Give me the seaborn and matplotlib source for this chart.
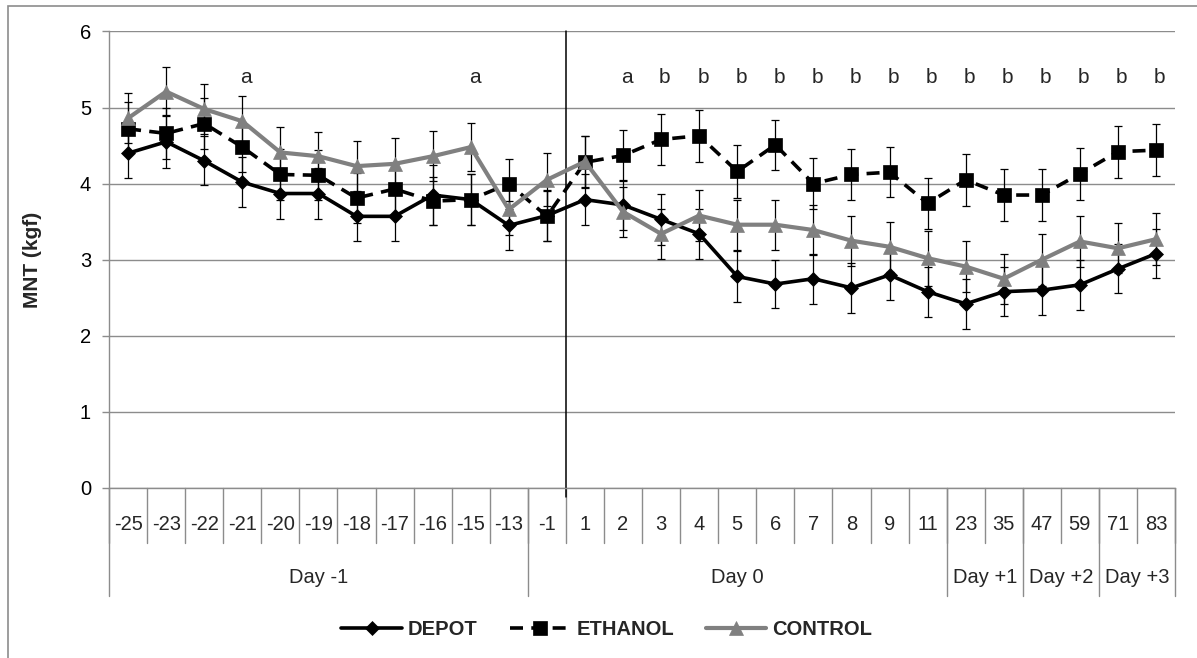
import numpy as np
import pandas as pd
import matplotlib
matplotlib.use("Agg")
import matplotlib.pyplot as plt
import matplotlib.transforms as mtransforms
from matplotlib.patches import Rectangle
import seaborn as sns

# Sampling times (hours relative to treatment)
hours = ["-25", "-23", "-22", "-21", "-20", "-19", "-18", "-17", "-16", "-15", "-13",
         "-1", "1", "2", "3", "4", "5", "6", "7", "8", "9", "11",
         "23", "35", "47", "59", "71", "83"]
day_groups = ["Day -1", "Day 0", "Day +1", "Day +2", "Day +3"]
day_sizes = [11, 11, 2, 2, 2]

# Mean nociceptive threshold (kgf) and SEM per group
depot = [4.40, 4.55, 4.30, 4.02, 3.87, 3.87, 3.57, 3.57, 3.85, 3.79, 3.45,
         3.58, 3.79, 3.72, 3.53, 3.34, 2.78, 2.68, 2.75, 2.63, 2.80, 2.58,
         2.42, 2.58, 2.60, 2.67, 2.88, 3.08]
depot_sem = [0.33, 0.35, 0.32, 0.33, 0.34, 0.34, 0.32, 0.33, 0.40, 0.34, 0.32,
             0.34, 0.34, 0.33, 0.34, 0.33, 0.34, 0.32, 0.33, 0.33, 0.33, 0.33,
             0.33, 0.32, 0.33, 0.33, 0.32, 0.32]

ethanol = [4.72, 4.66, 4.79, 4.48, 4.12, 4.11, 3.81, 3.93, 3.77, 3.79, 4.00,
           3.57, 4.28, 4.37, 4.58, 4.63, 4.16, 4.51, 4.00, 4.12, 4.15, 3.74,
           4.05, 3.85, 3.85, 4.13, 4.42, 4.44]
ethanol_sem = [0.35, 0.34, 0.33, 0.33, 0.34, 0.33, 0.33, 0.33, 0.32, 0.34, 0.33,
               0.33, 0.34, 0.34, 0.34, 0.34, 0.35, 0.33, 0.34, 0.34, 0.33, 0.34,
               0.34, 0.34, 0.34, 0.34, 0.34, 0.34]

control = [4.86, 5.21, 4.98, 4.82, 4.41, 4.36, 4.23, 4.26, 4.36, 4.48, 3.66,
           4.05, 4.29, 3.63, 3.34, 3.58, 3.46, 3.46, 3.39, 3.25, 3.17, 3.02,
           2.91, 2.75, 3.00, 3.24, 3.15, 3.27]
control_sem = [0.33, 0.32, 0.33, 0.33, 0.33, 0.32, 0.33, 0.34, 0.33, 0.32, 0.33,
               0.35, 0.34, 0.33, 0.33, 0.34, 0.33, 0.33, 0.33, 0.33, 0.33, 0.36,
               0.33, 0.33, 0.34, 0.34, 0.33, 0.34]

# Significance letters above each time point
letters = ["", "", "", "a", "", "", "", "", "", "a", "",
           "", "", "a", "b", "b", "b", "b", "b", "b", "b", "b",
           "b", "b", "b", "b", "b", "b"]

sns.set_theme(style="white")
plt.rcParams["font.family"] = ["Liberation Sans", "DejaVu Sans"]

GRAY = "#8c8c8c"
n = len(hours)
pos = np.arange(n)

df = pd.DataFrame({
    "pos": np.tile(pos, 3),
    "MNT": depot + ethanol + control,
    "group": ["DEPOT"] * n + ["ETHANOL"] * n + ["CONTROL"] * n,
})

fig = plt.figure(figsize=(11.97, 6.58), dpi=100)
ax = fig.add_axes([0.0911, 0.2584, 0.8906, 0.6938])

styles = {
    "DEPOT": dict(color="black", lw=2.6, marker="D", markersize=7, linestyle="-"),
    "ETHANOL": dict(color="black", lw=2.6, marker="s", markersize=9.5,
                    linestyle=(0, (3.6, 2.3))),
    "CONTROL": dict(color="#808080", lw=3.0, marker="^", markersize=9.5, linestyle="-"),
}
sems = {"DEPOT": depot_sem, "ETHANOL": ethanol_sem, "CONTROL": control_sem}

for name, st in styles.items():
    sub = df[df["group"] == name]
    ax.errorbar(sub["pos"], sub["MNT"], yerr=sems[name], fmt="none",
                ecolor="black", elinewidth=0.9, capsize=3.2, capthick=0.9, zorder=2)
    sns.lineplot(data=sub, x="pos", y="MNT", ax=ax, errorbar=None, label=name,
                 color=st["color"], lw=st["lw"], marker=st["marker"],
                 markersize=st["markersize"], linestyle=st["linestyle"],
                 markeredgecolor=st["color"], markeredgewidth=0.5, zorder=3)

handles, labels = ax.get_legend_handles_labels()
if ax.get_legend() is not None:
    ax.get_legend().remove()

# Axes frame and grid
ax.set_xlim(-0.5, n - 0.5)
ax.set_ylim(0, 6)
ax.set_yticks(range(7))
ax.set_xticks([])
ax.set_xlabel("")
ax.set_ylabel("")
ax.yaxis.grid(True, color=GRAY, lw=1)
ax.xaxis.grid(False)
for s in ["top", "right"]:
    ax.spines[s].set_visible(False)
for s in ["left", "bottom"]:
    ax.spines[s].set_color(GRAY)
    ax.spines[s].set_linewidth(1)
ax.tick_params(axis="y", left=True, length=5, width=1, color=GRAY,
               labelsize=14.5, pad=8, labelcolor="black")

trans = mtransforms.blended_transform_factory(ax.transData, ax.transAxes)

# First row of the category axis: hours
row1_bottom = -0.1205
row2_bottom = -0.2366
for i, h in enumerate(hours):
    ax.text(i, -0.081, h, ha="center", va="center", fontsize=14.5,
            transform=trans, clip_on=False)
for b in np.arange(-0.5, n, 1.0):
    ax.plot([b, b], [0, row1_bottom], transform=trans, color=GRAY, lw=1,
            clip_on=False, zorder=1)

# Second row: day groups
edges = np.concatenate([[-0.5], -0.5 + np.cumsum(day_sizes)])
for b in edges:
    ax.plot([b, b], [0, row2_bottom], transform=trans, color=GRAY, lw=1,
            clip_on=False, zorder=1)
for g, lo, hi in zip(day_groups, edges[:-1], edges[1:]):
    ax.text((lo + hi) / 2, -0.197, g, ha="center", va="center", fontsize=14.5,
            transform=trans, clip_on=False)

# Treatment time marker between -1 h and 1 h
ax.plot([11.5, 11.5], [1.0, -0.02], transform=trans, color="black", lw=1.1,
        clip_on=False, zorder=2.5)

# Significance letters
for i, let in enumerate(letters):
    if let:
        ax.text(i + 0.1, 5.39, let, ha="center", va="center", fontsize=15)

fig.text(0.027, 0.605, "MNT (kgf)", rotation=90, ha="center", va="center",
         fontsize=15, fontweight="bold")

fig.legend(handles, labels, loc="center", bbox_to_anchor=(0.507, 0.043), ncol=3,
           frameon=False, prop=dict(weight="bold", size=14.5), handlelength=3,
           handletextpad=0.3, columnspacing=1.6)

fig.add_artist(Rectangle((8 / 1197, -0.05), 1.1, 1.0 - 6 / 658 + 0.05,
                         transform=fig.transFigure, fill=False,
                         edgecolor=GRAY, lw=1.2))

fig.savefig("out.png", dpi=100)
